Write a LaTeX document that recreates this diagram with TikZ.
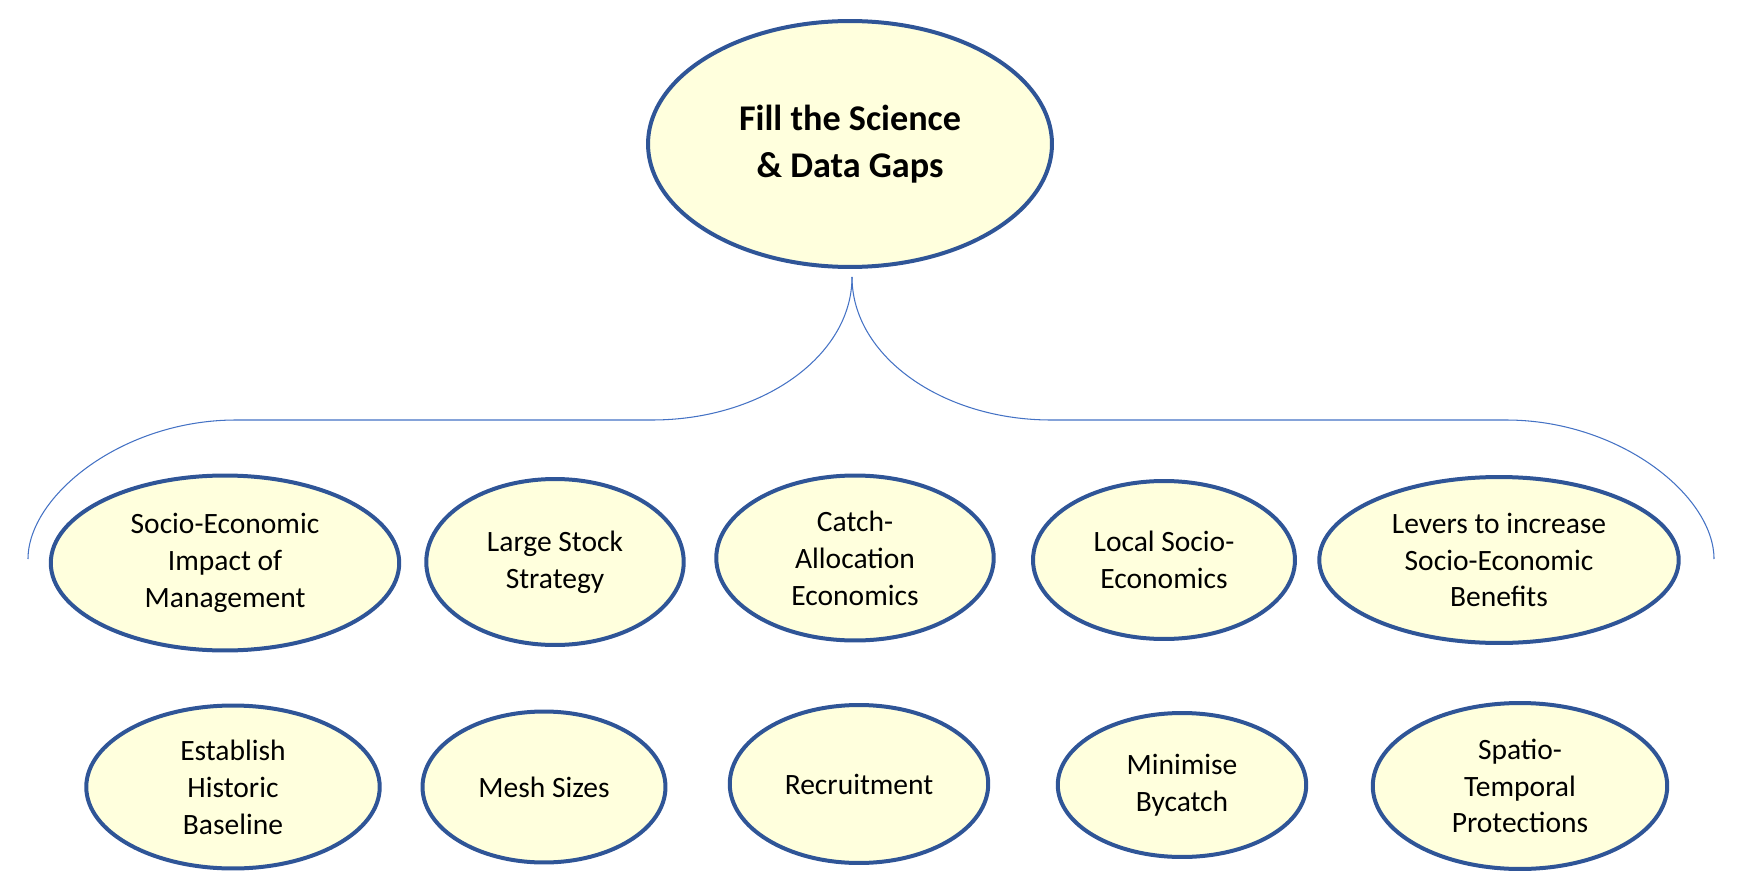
\documentclass[tikz,border=0pt]{standalone}
\usepackage{fontspec}
\setmainfont{Carlito}
\usetikzlibrary{shapes.geometric}

\definecolor{bubbleline}{HTML}{2F5597}
\definecolor{bubblefill}{HTML}{FFFFDD}
\definecolor{braceline}{HTML}{4472C4}

\begin{document}
\begin{tikzpicture}[
    x=0.02cm, y=-0.02cm,
    bubble/.style={ellipse, draw=bubbleline, fill=bubblefill, line width=0.08cm,
        inner sep=0pt, align=center, font=\fontsize{16.8}{21}\selectfont},
    goal/.style={bubble, font=\bfseries\fontsize{20.6}{26.7}\selectfont},
    brace/.style={draw=braceline, line width=0.6pt}
]
    % page frame
    \useasboundingbox (0,0) rectangle (1761,895);

    % main goal
    \node[goal, minimum width=8.08cm, minimum height=4.92cm] (gaps) at (850,144)
        {Fill the Science\\\& Data Gaps};

    % first row
    \node[bubble, minimum width=6.97cm, minimum height=3.5cm] (impact) at (225,563)
        {Socio-Economic\\Impact of\\Management};
    \node[bubble, minimum width=5.15cm, minimum height=3.32cm] (stock) at (555,562)
        {Large Stock\\Strategy};
    \node[bubble, minimum width=5.55cm, minimum height=3.3cm] (catch) at (855,558)
        {Catch-\\Allocation\\Economics};
    \node[bubble, minimum width=5.24cm, minimum height=3.16cm] (local) at (1164,560)
        {Local Socio-\\Economics};
    \node[bubble, minimum width=7.19cm, minimum height=3.32cm] (levers) at (1499,560)
        {Levers to increase\\Socio-Economic\\Benefits};

    % second row
    \node[bubble, minimum width=5.87cm, minimum height=3.26cm] (baseline) at (233,787)
        {Establish\\Historic\\Baseline};
    \node[bubble, minimum width=4.86cm, minimum height=3.02cm] (mesh) at (544,787)
        {Mesh Sizes};
    \node[bubble, minimum width=5.17cm, minimum height=3.16cm] (recruit) at (859,784)
        {Recruitment};
    \node[bubble, minimum width=4.97cm, minimum height=2.88cm] (bycatch) at (1182,785)
        {Minimise\\Bycatch};
    \node[bubble, minimum width=5.89cm, minimum height=3.32cm] (spatio) at (1520,786)
        {Spatio-\\Temporal\\Protections};

    % brace under the goal
    \coordinate (tip) at (852,277);
    \coordinate (leftin) at (652,420);
    \coordinate (leftout) at (236,420);
    \coordinate (leftend) at (28,559);
    \coordinate (rightin) at (1051,420);
    \coordinate (rightout) at (1506,420);
    \coordinate (rightend) at (1714,559);

    \draw[brace] (tip) .. controls (852,356) and (762,420) .. (leftin)
        -- (leftout) .. controls (122,420) and (28,496) .. (leftend);
    \draw[brace] (tip) .. controls (852,356) and (942,420) .. (rightin)
        -- (rightout) .. controls (1620,420) and (1714,496) .. (rightend);

\end{tikzpicture}
\end{document}
